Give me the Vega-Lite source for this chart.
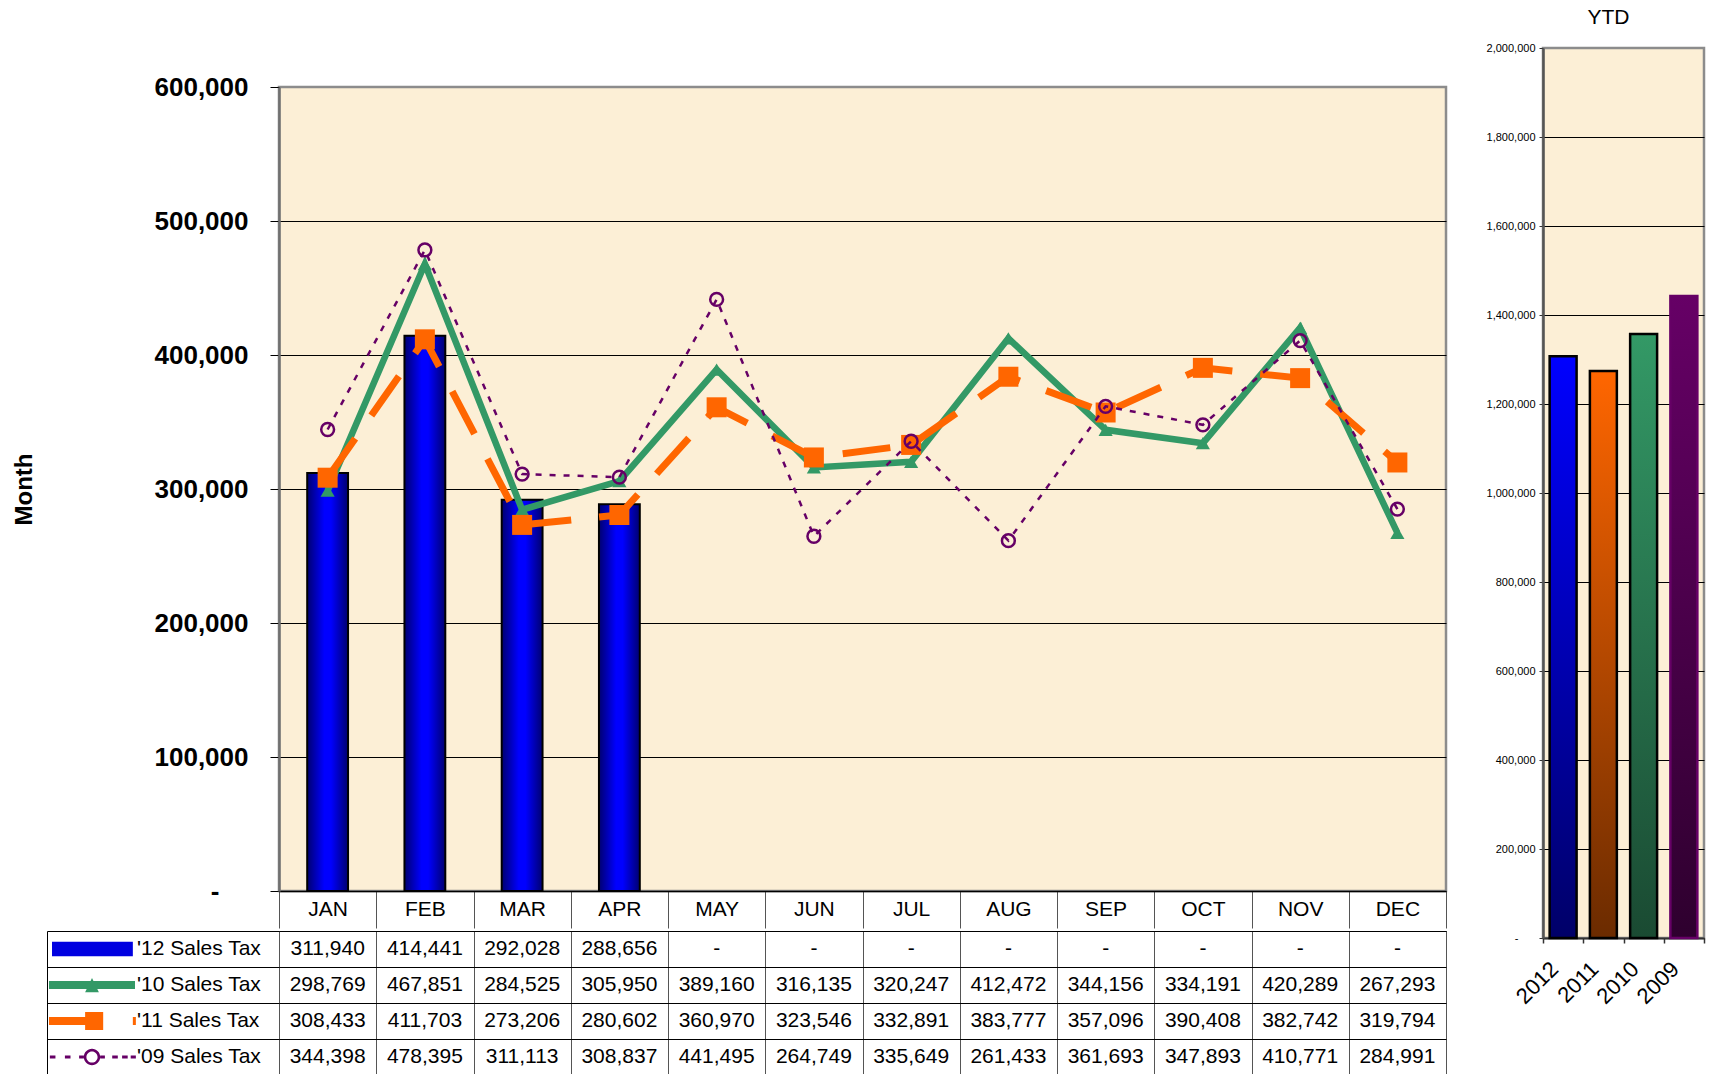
{
  "$schema": "https://vega.github.io/schema/vega-lite/v6.json",
  "background": "white",
  "padding": {"left": 10, "top": 5, "right": 0, "bottom": 0},
  "spacing": 36,
  "config": {
    "view": {"stroke": null},
    "axis": {"labelFont": "Liberation Sans", "titleFont": "Liberation Sans", "labelColor": "black", "titleColor": "black"},
    "legend": {"labelFont": "Liberation Sans"},
    "title": {"font": "Liberation Sans", "color": "black"}
  },
  "datasets": {
    "monthly": [
      {"month": "JAN", "series": "'12 Sales Tax", "value": 311940},
      {"month": "FEB", "series": "'12 Sales Tax", "value": 414441},
      {"month": "MAR", "series": "'12 Sales Tax", "value": 292028},
      {"month": "APR", "series": "'12 Sales Tax", "value": 288656},
      {"month": "MAY", "series": "'12 Sales Tax", "value": null},
      {"month": "JUN", "series": "'12 Sales Tax", "value": null},
      {"month": "JUL", "series": "'12 Sales Tax", "value": null},
      {"month": "AUG", "series": "'12 Sales Tax", "value": null},
      {"month": "SEP", "series": "'12 Sales Tax", "value": null},
      {"month": "OCT", "series": "'12 Sales Tax", "value": null},
      {"month": "NOV", "series": "'12 Sales Tax", "value": null},
      {"month": "DEC", "series": "'12 Sales Tax", "value": null},
      {"month": "JAN", "series": "'10 Sales Tax", "value": 298769},
      {"month": "FEB", "series": "'10 Sales Tax", "value": 467851},
      {"month": "MAR", "series": "'10 Sales Tax", "value": 284525},
      {"month": "APR", "series": "'10 Sales Tax", "value": 305950},
      {"month": "MAY", "series": "'10 Sales Tax", "value": 389160},
      {"month": "JUN", "series": "'10 Sales Tax", "value": 316135},
      {"month": "JUL", "series": "'10 Sales Tax", "value": 320247},
      {"month": "AUG", "series": "'10 Sales Tax", "value": 412472},
      {"month": "SEP", "series": "'10 Sales Tax", "value": 344156},
      {"month": "OCT", "series": "'10 Sales Tax", "value": 334191},
      {"month": "NOV", "series": "'10 Sales Tax", "value": 420289},
      {"month": "DEC", "series": "'10 Sales Tax", "value": 267293},
      {"month": "JAN", "series": "'11 Sales Tax", "value": 308433},
      {"month": "FEB", "series": "'11 Sales Tax", "value": 411703},
      {"month": "MAR", "series": "'11 Sales Tax", "value": 273206},
      {"month": "APR", "series": "'11 Sales Tax", "value": 280602},
      {"month": "MAY", "series": "'11 Sales Tax", "value": 360970},
      {"month": "JUN", "series": "'11 Sales Tax", "value": 323546},
      {"month": "JUL", "series": "'11 Sales Tax", "value": 332891},
      {"month": "AUG", "series": "'11 Sales Tax", "value": 383777},
      {"month": "SEP", "series": "'11 Sales Tax", "value": 357096},
      {"month": "OCT", "series": "'11 Sales Tax", "value": 390408},
      {"month": "NOV", "series": "'11 Sales Tax", "value": 382742},
      {"month": "DEC", "series": "'11 Sales Tax", "value": 319794},
      {"month": "JAN", "series": "'09 Sales Tax", "value": 344398},
      {"month": "FEB", "series": "'09 Sales Tax", "value": 478395},
      {"month": "MAR", "series": "'09 Sales Tax", "value": 311113},
      {"month": "APR", "series": "'09 Sales Tax", "value": 308837},
      {"month": "MAY", "series": "'09 Sales Tax", "value": 441495},
      {"month": "JUN", "series": "'09 Sales Tax", "value": 264749},
      {"month": "JUL", "series": "'09 Sales Tax", "value": 335649},
      {"month": "AUG", "series": "'09 Sales Tax", "value": 261433},
      {"month": "SEP", "series": "'09 Sales Tax", "value": 361693},
      {"month": "OCT", "series": "'09 Sales Tax", "value": 347893},
      {"month": "NOV", "series": "'09 Sales Tax", "value": 410771},
      {"month": "DEC", "series": "'09 Sales Tax", "value": 284991}
    ],
    "ytd": [
      {"year": "2012", "total": 1307065},
      {"year": "2011", "total": 1273944},
      {"year": "2010", "total": 1357095},
      {"year": "2009", "total": 1442743}
    ]
  },
  "hconcat": [
    {
      "spacing": 0,
      "resolve": {
        "scale": {"color": "independent", "shape": "independent"},
        "legend": {"color": "independent", "shape": "independent"}
      },
      "vconcat": [
        {
          "width": 1167,
          "height": 24,
          "data": {"values": []},
          "mark": {"type": "point", "opacity": 0}
        },
        {
          "width": 1167,
          "height": 804,
          "view": {"fill": "#FCEFD6", "stroke": "#8C8C8C", "strokeWidth": 2.5},
          "data": {"name": "monthly"},
          "encoding": {
            "x": {
              "field": "month", "type": "ordinal",
              "sort": ["JAN","FEB","MAR","APR","MAY","JUN","JUL","AUG","SEP","OCT","NOV","DEC"],
              "scale": {"domain": ["JAN","FEB","MAR","APR","MAY","JUN","JUL","AUG","SEP","OCT","NOV","DEC"], "paddingInner": 0, "paddingOuter": 0},
              "axis": {
                "title": null, "labelAngle": 0, "labelFontSize": 21, "labelBaseline": "middle", "labelPadding": -18.5,
                "ticks": true, "tickBand": "extent", "tickSize": 37, "tickColor": "#555555", "tickWidth": 1,
                "grid": false, "domain": true, "domainColor": "black", "domainWidth": 1.5
              }
            },
            "y": {
              "field": "value", "type": "quantitative",
              "scale": {"domain": [0, 600000], "nice": false},
              "axis": {
                "title": "Month", "titleFontSize": 24, "titleFontWeight": "bold", "titlePadding": 118,
                "values": [0, 100000, 200000, 300000, 400000, 500000, 600000],
                "format": ",d",
                "labelExpr": "datum.value === 0 ? '-' : datum.label",
                "labelFontSize": 26, "labelFontWeight": "bold",
                "labelPadding": {"condition": {"test": "datum.value === 0", "value": 51}, "value": 22},
                "tickSize": 9, "tickColor": "black", "tickWidth": 1,
                "domain": true, "domainColor": "#707070", "domainWidth": 2.5,
                "grid": true,
                "gridColor": {"condition": {"test": "datum.value === 600000", "value": "transparent"}, "value": "black"},
                "gridWidth": 1
              }
            }
          },
          "layer": [
            {
              "transform": [{"filter": {"field": "series", "equal": "'12 Sales Tax"}}, {"filter": {"field": "value", "valid": true}}],
              "mark": {
                "type": "bar", "width": {"band": 0.42},
                "fill": {"gradient": "linear", "x1": 0, "y1": 0, "x2": 1, "y2": 0,
                  "stops": [{"offset": 0, "color": "#000070"}, {"offset": 0.42, "color": "#0000FF"}, {"offset": 0.58, "color": "#0000FF"}, {"offset": 1, "color": "#000070"}]},
                "stroke": "black", "strokeWidth": 2
              }
            },
            {
              "transform": [{"filter": {"field": "series", "equal": "'10 Sales Tax"}}],
              "mark": {"type": "line", "color": "#339966", "strokeWidth": 6.5}
            },
            {
              "transform": [{"filter": {"field": "series", "equal": "'10 Sales Tax"}}],
              "mark": {"type": "point", "shape": "triangle-up", "size": 200, "filled": true, "color": "#339966", "opacity": 1}
            },
            {
              "transform": [{"filter": {"field": "series", "equal": "'11 Sales Tax"}}],
              "mark": {"type": "line", "color": "#FF6600", "strokeWidth": 7, "strokeDash": [48, 28]}
            },
            {
              "transform": [{"filter": {"field": "series", "equal": "'11 Sales Tax"}}],
              "mark": {"type": "point", "shape": "square", "size": 400, "filled": true, "color": "#FF6600", "opacity": 1}
            },
            {
              "transform": [{"filter": {"field": "series", "equal": "'09 Sales Tax"}}],
              "mark": {"type": "line", "color": "#660066", "strokeWidth": 2.5, "strokeDash": [6, 8]}
            },
            {
              "transform": [{"filter": {"field": "series", "equal": "'09 Sales Tax"}}],
              "mark": {"type": "point", "shape": "circle", "size": 165, "filled": false, "color": "#660066", "strokeWidth": 2.5, "opacity": 1}
            }
          ]
        },
        {
          "width": 1167,
          "height": 144,
          "view": {"fill": "white", "stroke": "black", "strokeWidth": 1},
          "encoding": {
            "x": {
              "field": "month", "type": "ordinal",
              "sort": ["JAN","FEB","MAR","APR","MAY","JUN","JUL","AUG","SEP","OCT","NOV","DEC"],
              "scale": {"domain": ["JAN","FEB","MAR","APR","MAY","JUN","JUL","AUG","SEP","OCT","NOV","DEC"], "paddingInner": 0, "paddingOuter": 0},
              "axis": {"title": null, "labels": false, "ticks": false, "domain": false, "grid": true, "tickBand": "extent", "gridColor": "#555555", "gridWidth": 1}
            },
            "y": {
              "field": "series", "type": "nominal",
              "scale": {"domain": ["'12 Sales Tax", "'10 Sales Tax", "'11 Sales Tax", "'09 Sales Tax"], "paddingInner": 0, "paddingOuter": 0},
              "axis": {
                "title": null, "labels": false, "tickBand": "extent",
                "ticks": true, "tickSize": -232, "offset": 232, "tickColor": "black", "tickWidth": 1,
                "domain": true, "domainColor": "black", "domainWidth": 1,
                "grid": true, "gridColor": "black", "gridWidth": 1
              }
            }
          },
          "layer": [
            {
              "data": {"name": "monthly"},
              "mark": {"type": "text", "font": "Liberation Sans", "fontSize": 21, "color": "black"},
              "encoding": {
                "text": {"condition": {"test": "!isValid(datum.value)", "value": "-"}, "field": "value", "type": "quantitative", "format": ","}
              }
            },
            {
              "data": {"name": "monthly"},
              "transform": [{"filter": "false"}],
              "mark": {"type": "point", "filled": true, "opacity": 1, "size": 7396},
              "encoding": {
                "shape": {
                  "field": "series", "type": "nominal",
                  "scale": {
                    "domain": ["'12 Sales Tax", "'10 Sales Tax", "'11 Sales Tax", "'09 Sales Tax"],
                    "range": [
                      "M-0.93,-0.17H0.95V0.17H-0.93Z",
                      "M-1,-0.095H1V0.095H-1Z M-0.16,0.17L0,-0.16L0.16,0.17Z",
                      "M-1,-0.095H0.2V0.095H-1Z M-0.16,-0.21H0.26V0.21H-0.16Z M0.95,-0.095H1.02V0.095H0.95Z",
                      "M-0.98,-0.035H-0.85V0.035H-0.98Z M-0.63,-0.035H-0.5V0.035H-0.63Z M-0.3,-0.035H-0.19V0.035H-0.3Z M0.19,-0.035H0.3V0.035H0.19Z M0.47,-0.035H0.6V0.035H0.47Z M0.7,-0.035H0.83V0.035H0.7Z M0.9,-0.035H1.02V0.035H0.9Z M0.19,0A0.19,0.19 0 1,1 -0.19,0A0.19,0.19 0 1,1 0.19,0Z M0.13,0A0.13,0.13 0 1,0 -0.13,0A0.13,0.13 0 1,0 0.13,0Z"
                    ]
                  },
                  "legend": {"title": null, "orient": "none", "legendX": -231, "legendY": 0, "direction": "vertical", "rowPadding": 0, "clipHeight": 36, "symbolSize": 7396, "symbolStrokeWidth": 1.5, "symbolStrokeColor": {"expr": "datum.value === \"'12 Sales Tax\" ? 'black' : 'transparent'"}, "symbolOpacity": 1, "labelFontSize": 21, "labelColor": "black", "labelOffset": 1, "labelLimit": 400, "padding": 0}
                },
                "color": {
                  "field": "series", "type": "nominal",
                  "scale": {
                    "domain": ["'12 Sales Tax", "'10 Sales Tax", "'11 Sales Tax", "'09 Sales Tax"],
                    "range": ["#0000E0", "#339966", "#FF6600", "#660066"]
                  },
                  "legend": {"title": null, "orient": "none", "legendX": -231, "legendY": 0, "direction": "vertical", "rowPadding": 0, "clipHeight": 36, "symbolSize": 7396, "symbolStrokeWidth": 1.5, "symbolStrokeColor": {"expr": "datum.value === \"'12 Sales Tax\" ? 'black' : 'transparent'"}, "symbolOpacity": 1, "labelFontSize": 21, "labelColor": "black", "labelOffset": 1, "labelLimit": 400, "padding": 0}
                }
              }
            }
          ]
        }
      ]
    },
    {
      "width": 161,
      "height": 890,
      "title": {"text": "YTD", "fontSize": 21, "fontWeight": "normal", "offset": 14, "dx": -15, "anchor": "middle"},
      "view": {"fill": "#FCEFD6", "stroke": "#8C8C8C", "strokeWidth": 2.5},
      "data": {"name": "ytd"},
      "encoding": {
        "x": {
          "field": "year", "type": "ordinal", "sort": ["2012", "2011", "2010", "2009"],
          "scale": {"domain": ["2012", "2011", "2010", "2009"], "paddingInner": 0, "paddingOuter": 0},
          "axis": {"title": null, "labelAngle": -45, "labelFontSize": 22, "labelPadding": 15, "labelOffset": -16, "tickBand": "extent", "tickSize": 5, "tickColor": "#333333", "tickWidth": 1.5, "domain": true, "domainColor": "#333333", "domainWidth": 2, "grid": false}
        },
        "y": {
          "field": "total", "type": "quantitative",
          "scale": {"domain": [0, 2000000], "nice": false},
          "axis": {
            "title": null,
            "values": [0, 200000, 400000, 600000, 800000, 1000000, 1200000, 1400000, 1600000, 1800000, 2000000],
            "format": ",d",
            "labelExpr": "datum.value === 0 ? '-' : datum.label",
            "labelFontSize": 11,
            "labelPadding": {"condition": {"test": "datum.value === 0", "value": 21}, "value": 4},
            "tickSize": 4, "tickColor": "#333333",
            "domain": true, "domainColor": "#555555", "domainWidth": 2.5,
            "grid": true,
            "gridColor": {"condition": {"test": "datum.value === 2000000", "value": "transparent"}, "value": "black"},
            "gridWidth": 1
          }
        }
      },
      "layer": [
        {
          "transform": [{"filter": {"field": "year", "equal": "2012"}}],
          "mark": {"type": "bar", "width": {"band": 0.67},
            "fill": {"gradient": "linear", "x1": 0, "y1": 0, "x2": 0, "y2": 1, "stops": [{"offset": 0, "color": "#0000FF"}, {"offset": 1, "color": "#000068"}]},
            "stroke": "black", "strokeWidth": 2.5}
        },
        {
          "transform": [{"filter": {"field": "year", "equal": "2011"}}],
          "mark": {"type": "bar", "width": {"band": 0.67},
            "fill": {"gradient": "linear", "x1": 0, "y1": 0, "x2": 0, "y2": 1, "stops": [{"offset": 0, "color": "#FF6600"}, {"offset": 1, "color": "#6B2B00"}]},
            "stroke": "black", "strokeWidth": 2.5}
        },
        {
          "transform": [{"filter": {"field": "year", "equal": "2010"}}],
          "mark": {"type": "bar", "width": {"band": 0.67},
            "fill": {"gradient": "linear", "x1": 0, "y1": 0, "x2": 0, "y2": 1, "stops": [{"offset": 0, "color": "#339966"}, {"offset": 1, "color": "#1A4A32"}]},
            "stroke": "black", "strokeWidth": 2.5}
        },
        {
          "transform": [{"filter": {"field": "year", "equal": "2009"}}],
          "mark": {"type": "bar", "width": {"band": 0.67},
            "fill": {"gradient": "linear", "x1": 0, "y1": 0, "x2": 0, "y2": 1, "stops": [{"offset": 0, "color": "#660066"}, {"offset": 1, "color": "#2E002E"}]},
            "stroke": "#660066", "strokeWidth": 2.5}
        }
      ]
    }
  ]
}
